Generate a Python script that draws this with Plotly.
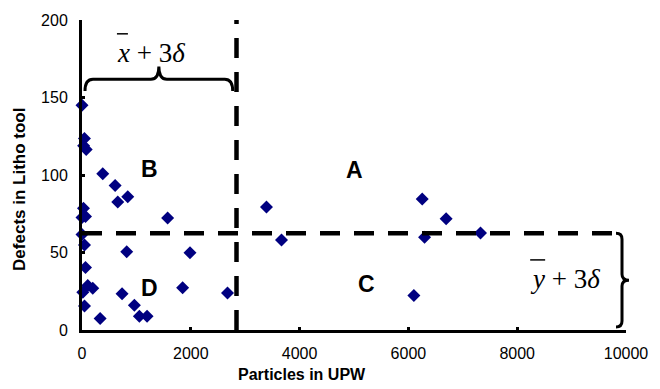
import plotly.graph_objects as go

# Data
particles = [0, 45, 30, 77, 382, 609, 841, 657, 27, 0, 64, 1574, 0, 46, 822, 1985,
             64, 106, 198, 15, 1850, 737, 2675, 46, 963, 333, 1055, 1196,
             3391, 3667, 6254, 6694, 6297, 7325, 6101]
defects = [145, 123.6, 118.9, 116.4, 100.8, 93.2, 86, 82.6, 78.5, 72.6, 73.2, 72.2, 61.6, 54.8, 50.5, 49.9,
           40.3, 28.7, 27, 24.4, 27.2, 23.4, 23.8, 15.5, 15.9, 7.4, 8.9, 8.9,
           79.4, 58, 84.5, 71.8, 59.9, 62.6, 22.3]

x_limit = 2840      # x-bar + 3 delta
y_limit = 62.5      # y-bar + 3 delta
x_ticks = [0, 2000, 4000, 6000, 8000, 10000]
y_ticks = [0, 50, 100, 150, 200]

W, H = 660, 389
L, R, T, B = 82, 33, 16, 59
PW, PH = W - L - R, H - T - B


def px(xp):
    return (xp - L) / PW


def py(yp):
    return (H - B - yp) / PH


fig = go.Figure()
fig.add_trace(go.Scatter(
    x=particles, y=defects, mode="markers",
    marker=dict(symbol="diamond", size=10, color="#000080"),
    cliponaxis=False, showlegend=False,
))

dash = "20px,14px"
fig.add_shape(type="line", xref="x", yref="y", x0=x_limit, x1=x_limit, y0=0, y1=200,
              line=dict(color="black", width=4.5, dash=dash))
fig.add_shape(type="line", xref="x", yref="y", x0=0, x1=9800, y0=y_limit, y1=y_limit,
              line=dict(color="black", width=4.5, dash=dash))


def brace_top(x0, x1, yh, yend, ytip, r=8):
    xm = (x0 + x1) / 2
    pts = [
        f"M {px(x0)},{py(yend)}",
        f"Q {px(x0)},{py(yh)} {px(x0 + r)},{py(yh)}",
        f"L {px(xm - r)},{py(yh)}",
        f"Q {px(xm)},{py(yh)} {px(xm)},{py(ytip)}",
        f"Q {px(xm)},{py(yh)} {px(xm + r)},{py(yh)}",
        f"L {px(x1 - r)},{py(yh)}",
        f"Q {px(x1)},{py(yh)} {px(x1)},{py(yend)}",
    ]
    return " ".join(pts)


def brace_right(y0, y1, xs, xend, xtip, r=6):
    ym = (y0 + y1) / 2
    pts = [
        f"M {px(xend)},{py(y0)}",
        f"Q {px(xs)},{py(y0)} {px(xs)},{py(y0 + r)}",
        f"L {px(xs)},{py(ym - r)}",
        f"Q {px(xs)},{py(ym)} {px(xtip)},{py(ym)}",
        f"Q {px(xs)},{py(ym)} {px(xs)},{py(ym + r)}",
        f"L {px(xs)},{py(y1 - r)}",
        f"Q {px(xs)},{py(y1)} {px(xend)},{py(y1)}",
    ]
    return " ".join(pts)


fig.add_shape(type="path", xref="paper", yref="paper",
              path=brace_top(85, 233, 76, 88, 63), line=dict(color="black", width=3))
fig.add_shape(type="path", xref="paper", yref="paper",
              path=brace_right(232, 327, 623, 617, 630), line=dict(color="black", width=3))

# overbars for x and y
fig.add_shape(type="line", xref="paper", yref="paper", x0=px(117), x1=px(128), y0=py(30), y1=py(30),
              line=dict(color="black", width=1.5))
fig.add_shape(type="line", xref="paper", yref="paper", x0=px(531), x1=px(546), y0=py(259), y1=py(259),
              line=dict(color="black", width=1.5))

serif = "Times New Roman, Liberation Serif, serif"
sans = "Arial, Liberation Sans, sans-serif"


def ann(text, xp, yp, size, family=sans, angle=0):
    fig.add_annotation(text=text, xref="paper", yref="paper", x=px(xp), y=py(yp),
                       xanchor="center", yanchor="middle", showarrow=False, textangle=angle,
                       font=dict(family=family, size=size, color="black"))


ann("<i>x</i> + 3<i>δ</i>", 151, 49, 27, serif)
ann("<i>y</i> + 3<i>δ</i>", 566, 278, 27, serif)
ann("<b>A</b>", 355, 168, 23)
ann("<b>B</b>", 150, 167, 23)
ann("<b>C</b>", 367, 283, 23)
ann("<b>D</b>", 150, 287, 23)
ann("<b>Defects in Litho tool</b>", 20, 188, 17, sans, -90)
ann("<b>Particles in UPW</b>", 302, 375, 16)

fig.update_xaxes(range=[0, 10000], tickvals=x_ticks, ticktext=[str(v) for v in x_ticks],
                 showline=True, linewidth=3, linecolor="black", showgrid=False, zeroline=False,
                 ticks="inside", ticklen=3, tickwidth=3, tickcolor="black", ticklabelstandoff=7,
                 tickfont=dict(family=sans, size=16, color="black"))
fig.update_yaxes(range=[0, 200], tickvals=y_ticks, ticktext=[str(v) for v in y_ticks],
                 showline=True, linewidth=3, linecolor="black", showgrid=False, zeroline=False,
                 ticks="inside", ticklen=3, tickwidth=3, tickcolor="black", ticklabelstandoff=8,
                 tickfont=dict(family=sans, size=16, color="black"))

fig.update_layout(width=W, height=H, margin=dict(l=L, r=R, t=T, b=B),
                  plot_bgcolor="white", paper_bgcolor="white", showlegend=False)

fig.write_html("out.html")
